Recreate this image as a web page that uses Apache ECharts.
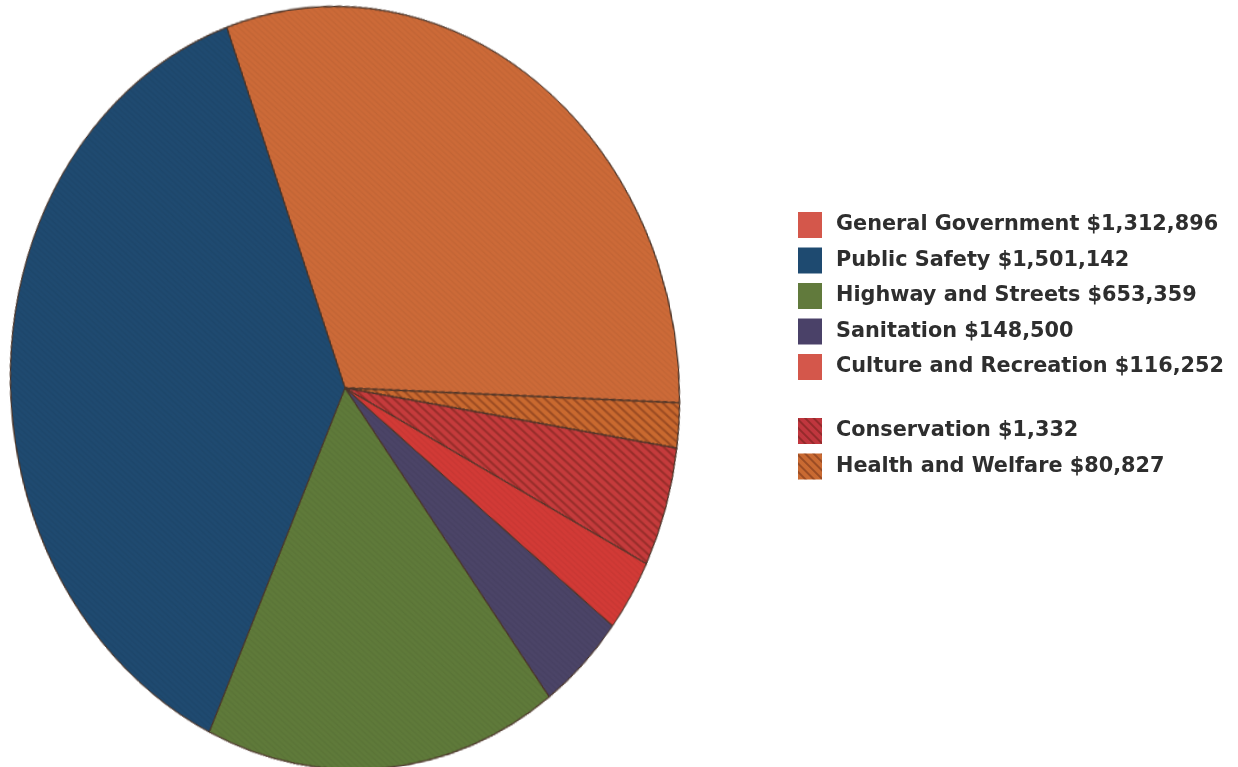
<!DOCTYPE html>
<html>
<head>
<meta charset="utf-8">
<script src="https://cdn.jsdelivr.net/npm/echarts@6/dist/echarts.min.js"></script>
<style>
    html, body { margin: 0; padding: 0; background: #fff; }
    #wrap { position: relative; width: 1238px; height: 767px; overflow: hidden; }
    #pie, #legend { position: absolute; left: 0; top: 0; width: 1238px; height: 767px; }
    /* the printed pie is an oval leaning slightly to the left at the top */
    #pie { transform: rotate(-6.3deg) scaleY(1.144); transform-origin: 345px 388px; }
    #legend { pointer-events: none; }
</style>
</head>
<body>
<div id="wrap">
    <div id="pie"></div>
    <div id="legend"></div>
</div>
<script>
// slices, clockwise from the top-left edge (shares, %)
const sliceNames = ['General Government', 'Health and Welfare', 'Conservation', 'Culture and Recreation', 'Sanitation', 'Highway and Streets', 'Public Safety'];
const sliceShares = [30.9, 1.9, 5.1, 3.1, 4.3, 17.1, 37.6];
const sliceColors = ['#cc6a38', '#c9692f', '#c53b3c', '#d23a36', '#4b4467', '#5f7a3a', '#1f4a70'];
const sliceHatched = [false, true, true, false, false, false, false];

// legend, in the printed order
const legendNames = ['General Government', 'Public Safety', 'Highway and Streets', 'Sanitation', 'Culture and Recreation', 'Conservation', 'Health and Welfare'];
const legendAmounts = ['$1,312,896', '$1,501,142', '$653,359', '$148,500', '$116,252', '$1,332', '$80,827'];
const legendColors = ['#d4574b', '#1e4a70', '#617a3c', '#4a4168', '#d4574b', '#c0363e', '#c96a32'];

function hatch(strong) {
    return {
        symbol: 'rect',
        symbolSize: 1,
        dashArrayX: [1, 0],
        dashArrayY: strong ? [2, 4] : [1, 3],
        rotation: Math.PI / 4,
        color: strong ? 'rgba(70, 20, 10, 0.35)' : 'rgba(0, 0, 0, 0.06)'
    };
}

function buildPieOption() {
    return {
        backgroundColor: 'transparent',
        animation: false,
        series: [{
            type: 'pie',
            center: [345, 388],
            radius: 334,
            startAngle: 103.5,
            clockwise: true,
            silent: true,
            label: { show: false },
            labelLine: { show: false },
            itemStyle: { borderColor: '#4a3428', borderWidth: 1 },
            data: sliceNames.map((name, i) => ({
                name,
                value: sliceShares[i],
                itemStyle: { color: sliceColors[i], decal: hatch(sliceHatched[i]) }
            }))
        }]
    };
}

function legendBlock(names, top) {
    return {
        orient: 'vertical',
        left: 798,
        top,
        padding: 0,
        itemWidth: 24,
        itemHeight: 26,
        itemGap: 9.5,
        icon: 'rect',
        selectedMode: false,
        textStyle: {
            fontFamily: 'DejaVu Sans',
            fontWeight: 'bold',
            fontSize: 20.8,
            color: '#2e2e2e',
            padding: [0, 0, 0, 9]
        },
        formatter: name => name + ' ' + legendAmounts[legendNames.indexOf(name)],
        data: names.map(name => {
            const i = legendNames.indexOf(name);
            const item = { name, itemStyle: { color: legendColors[i], borderWidth: 0 } };
            if (name === 'Health and Welfare' || name === 'Conservation') {
                item.itemStyle.decal = hatch(true);
            }
            return item;
        })
    };
}

function buildLegendOption() {
    return {
        backgroundColor: 'transparent',
        animation: false,
        legend: [
            legendBlock(legendNames.slice(0, 5), 212),
            legendBlock(legendNames.slice(5), 418)
        ],
        // zero-size pie, only so the legend has its names
        series: [{
            type: 'pie',
            radius: 0,
            silent: true,
            label: { show: false },
            data: legendNames.map((name, i) => ({ name, value: 1, itemStyle: { color: legendColors[i] } }))
        }]
    };
}

const pieChart = echarts.init(document.getElementById('pie'));
pieChart.setOption(buildPieOption());

const legendChart = echarts.init(document.getElementById('legend'));
legendChart.setOption(buildLegendOption());
</script>
</body>
</html>
